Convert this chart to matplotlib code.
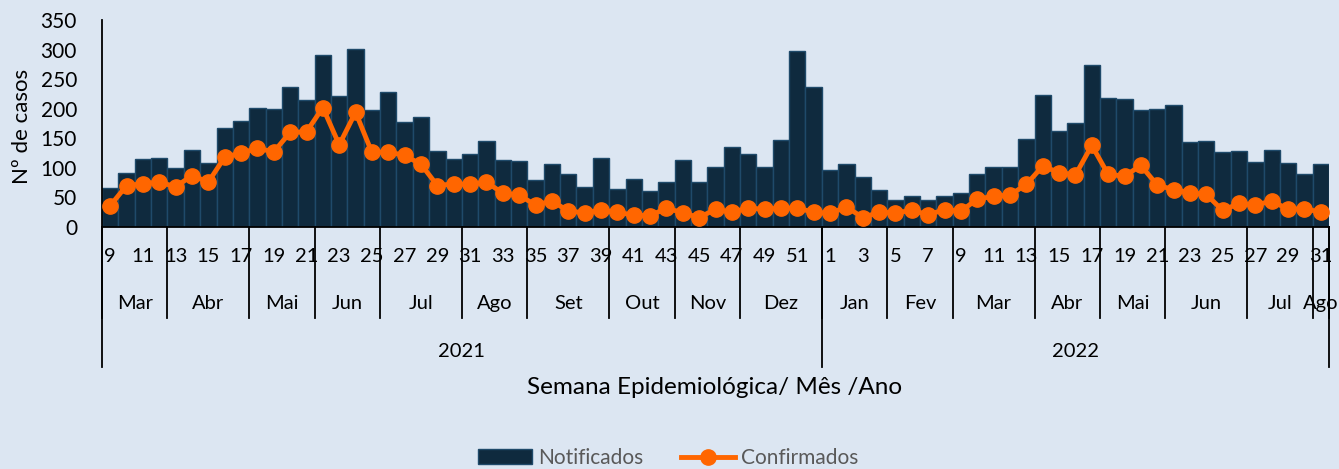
import matplotlib
matplotlib.use('Agg')
import matplotlib.pyplot as plt
from matplotlib.transforms import blended_transform_factory
from matplotlib.lines import Line2D
from matplotlib.patches import Patch

# ---- data ----
weeks_2021 = list(range(9, 53))
weeks_2022 = list(range(1, 32))
week_labels = [str(w) for w in weeks_2021 + weeks_2022]

notificados = [66, 91, 115, 117, 99, 131, 109, 168, 179, 201,
               200, 236, 215, 291, 221, 301, 197, 229, 178, 186,
               129, 115, 123, 146, 114, 111, 79, 107, 90, 67,
               117, 64, 82, 61, 76, 114, 76, 102, 135, 124,
               102, 147, 298, 236,
               97, 106, 85, 63, 46, 52, 46, 52, 57, 89,
               101, 102, 149, 224, 162, 175, 274, 218, 216, 197,
               199, 206, 143, 145, 126, 128, 110, 130, 108, 89,
               106]

confirmados = [36, 70, 73, 76, 68, 87, 76, 118, 125, 133,
               127, 160, 161, 202, 139, 194, 126, 127, 121, 106,
               70, 73, 72, 76, 57, 54, 37, 44, 27, 24,
               28, 25, 20, 19, 32, 24, 16, 30, 25, 32,
               30, 32, 32, 25,
               23, 34, 16, 25, 24, 28, 21, 29, 27, 47,
               52, 54, 72, 103, 92, 88, 138, 89, 86, 104,
               71, 63, 58, 55, 28, 40, 37, 44, 30, 31,
               25]

months = ['Mar', 'Abr', 'Mai', 'Jun', 'Jul', 'Ago', 'Set', 'Out', 'Nov', 'Dez',
          'Jan', 'Fev', 'Mar', 'Abr', 'Mai', 'Jun', 'Jul', 'Ago']
month_weeks = [4, 5, 4, 4, 5, 4, 5, 4, 4, 5,
               4, 4, 5, 4, 4, 5, 4, 1]
years = ['2021', '2022']
year_weeks = [44, 31]

# ---- style ----
BG = '#dce6f2'
BAR = '#0f2a3e'
BAR_EDGE = '#1f4a6a'
ORANGE = '#ff6600'
FONT = 'Lato'
plt.rcParams['font.family'] = [FONT, 'DejaVu Sans']

W, H = 1339, 469
fig = plt.figure(figsize=(W / 100, H / 100), dpi=100, facecolor=BG)
left_px, right_px, top_px, bot_px = 102, 1329, 20, 227
ax = fig.add_axes([left_px / W, (H - bot_px) / H, (right_px - left_px) / W, (bot_px - top_px) / H])
ax.set_facecolor(BG)

n = len(week_labels)
x = list(range(n))
ax.bar(x, notificados, width=1.0, color=BAR, edgecolor=BAR_EDGE, linewidth=1.0, zorder=2)
ax.plot(x, confirmados, color=ORANGE, lw=3.5, marker='o', markersize=11, zorder=3, clip_on=False)

ax.set_xlim(-0.5, n - 0.5)
ax.set_ylim(0, 350)
ax.set_yticks(range(0, 351, 50))
ax.tick_params(axis='y', length=0, labelsize=15, pad=18)
ax.tick_params(axis='x', length=0, labelbottom=False)
for s in ['top', 'right']:
    ax.spines[s].set_visible(False)
ax.spines['left'].set_color('black')
ax.spines['left'].set_linewidth(1.3)
ax.spines['bottom'].set_color('black')
ax.spines['bottom'].set_linewidth(1.3)
ax.set_xticks([])

ax_h = bot_px - top_px
def fy(ypx):
    return (bot_px - ypx) / ax_h

tr = blended_transform_factory(ax.transData, ax.transAxes)

# week labels (every other)
for i in range(0, n, 2):
    ax.text(i, fy(257), week_labels[i], transform=tr, ha='center', va='center',
            fontsize=14.5, color='black', clip_on=False)

# month labels and separators
pos = -0.5
for m, k in zip(months, month_weeks):
    ax.text(pos + k / 2, fy(303), m, transform=tr, ha='center', va='center',
            fontsize=14.5, color='black', clip_on=False)
    ax.plot([pos, pos], [0, fy(318)], transform=tr, color='black', lw=1.3, clip_on=False)
    pos += k
ax.plot([pos, pos], [0, fy(318)], transform=tr, color='black', lw=1.3, clip_on=False)

# year labels and separators
pos = -0.5
for yname, k in zip(years, year_weeks):
    ax.text(pos + k / 2, fy(351), yname, transform=tr, ha='center', va='center',
            fontsize=14.5, color='black', clip_on=False)
    ax.plot([pos, pos], [0, fy(367)], transform=tr, color='black', lw=1.3, clip_on=False)
    pos += k
ax.plot([pos, pos], [0, fy(367)], transform=tr, color='black', lw=1.3, clip_on=False)

fig.text(715 / W, 1 - 387 / H, 'Semana Epidemiológica/ Mês /Ano', ha='center', va='center',
         fontsize=17.5, color='black')
fig.text(22 / W, 1 - 126 / H, 'Nº de casos', ha='center', va='center', rotation=90,
         fontsize=16, color='black')

handles = [Patch(facecolor=BAR, edgecolor=BAR_EDGE, linewidth=1.0),
           Line2D([0], [0], color=ORANGE, lw=3.5, marker='o', markersize=11)]
leg = fig.legend(handles, ['Notificados', 'Confirmados'], loc='center',
                 bbox_to_anchor=(668 / W, 1 - 458 / H), ncol=2, frameon=False,
                 fontsize=15, handlelength=2.6, handletextpad=0.3, columnspacing=1.8,
                 labelcolor='#595959')

fig.savefig('out.png', dpi=100, facecolor=BG)
